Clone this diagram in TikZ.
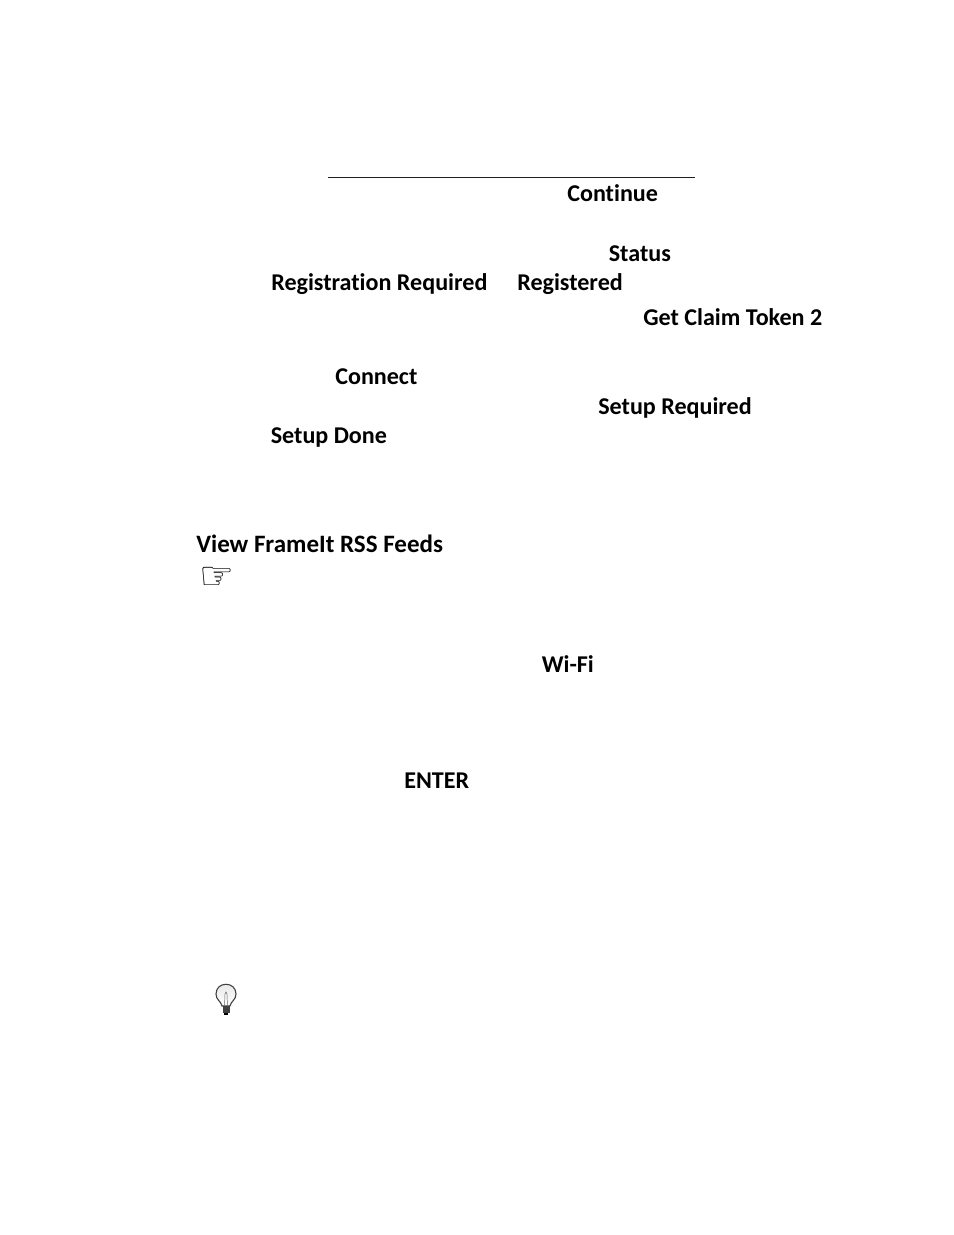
\documentclass[tikz,border=0pt]{standalone}
\usepackage{fontspec}
\setmainfont[Ligatures=NoCommon]{Carlito}
\newfontfamily\symfont{DejaVu Sans}
\usepackage{tikz}

\tikzset{
  word/.style={anchor=base west,inner sep=0pt,font=\fontsize{15.45}{18}\selectfont\bfseries},
  head/.style={anchor=base west,inner sep=0pt,font=\fontsize{16.05}{19}\selectfont\bfseries}
}

\begin{document}
\begin{tikzpicture}[x=0.6415pt,y=-0.6415pt]

\useasboundingbox (0,0) rectangle (954,1235);

\coordinate (ruleL) at (328,177.5);
\coordinate (ruleR) at (695,177.5);
\draw[blue,line width=0.6pt] (ruleL) -- (ruleR);

\node[word] (continue) at (567,201.5) {Continue};
\node[word] (status) at (608.5,261.5) {Status};
\node[word] (regreq) at (271,290.5) {Registration Required};
\node[word] (registered) at (517,290.5) {Registered};
\node[word] (token) at (643,325.5) {Get Claim Token 2};
\node[word] (connect) at (335,384.5) {Connect};
\node[word] (setupreq) at (598,414.5) {Setup Required};
\node[word] (setupdone) at (270.5,443.5) {Setup Done};
\node[head] (feeds) at (196,552.5) {View FrameIt RSS Feeds};
\node[anchor=base west,inner sep=0pt,font=\fontsize{25}{25}\symfont] (hand) at (199,589) {☞};
\node[word] (wifi) at (541.5,672.5) {Wi-Fi};
\node[word] (enter) at (404,788.5) {ENTER};

% bulb
\draw[black!75,line width=0.7pt,top color=black!10,bottom color=white] (222,1006) .. controls (221,1001) and (216,1000) .. (216,994)
 .. controls (216,981) and (236,981) .. (236,994) .. controls (236,1000) and (231,1001) .. (230,1006) -- cycle;
\draw[black!60,line width=0.3pt] (224.5,1006) -- (225,994) -- (226,992) -- (227,994) -- (227.5,1006);
\fill[black!75] (222.5,1006) rectangle (229.5,1013);
\fill[black] (224,1013) rectangle (228,1015);

\end{tikzpicture}
\end{document}
